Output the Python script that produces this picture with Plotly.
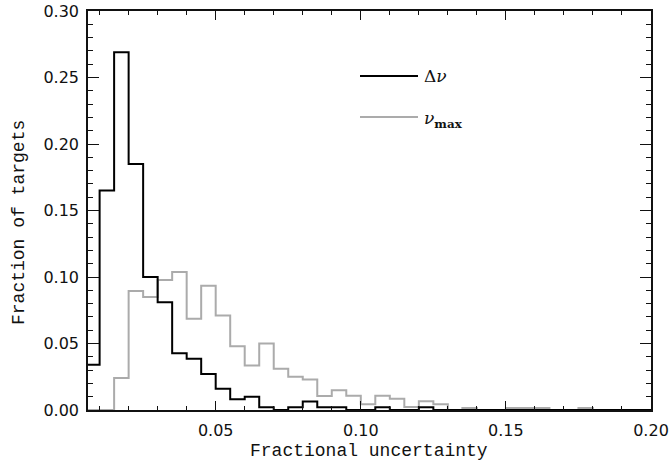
import plotly.graph_objects as go

# Histogram bin left edges (bin width 0.005) and fractions
bin_edges = [round(0.005 + 0.005 * i, 3) for i in range(40)]  # 0.005 ... 0.200
dnu_frac = [0.034, 0.165, 0.269, 0.185, 0.100, 0.081, 0.0426, 0.0386, 0.027, 0.016,
            0.008, 0.010, 0.002, 0.0, 0.002, 0.0063, 0.002, 0.002, 0.0, 0.0,
            0.002, 0.0, 0.0, 0.002, 0.0, 0.0, 0.0, 0.0, 0.0, 0.0,
            0.0, 0.0, 0.0, 0.0, 0.0, 0.0, 0.0, 0.0, 0.0]
numax_frac = [0.0, 0.0, 0.024, 0.0895, 0.085, 0.0977, 0.1038, 0.0687, 0.0935, 0.071,
              0.048, 0.0335, 0.050, 0.031, 0.025, 0.023, 0.0105, 0.0148, 0.0108, 0.0043,
              0.0108, 0.0085, 0.0023, 0.0065, 0.0043, 0.0, 0.0015, 0.0, 0.0, 0.0015,
              0.0015, 0.0015, 0.0, 0.0, 0.0015, 0.0, 0.0, 0.0, 0.0]

x_ticks = [0.05, 0.10, 0.15, 0.20]
x_tick_labels = ["0.05", "0.10", "0.15", "0.20"]
y_ticks = [0.0, 0.05, 0.10, 0.15, 0.20, 0.25, 0.30]
y_tick_labels = ["0.00", "0.05", "0.10", "0.15", "0.20", "0.25", "0.30"]

BLACK = "#000000"
GRAY = "#ababab"


def step_xy(edges, vals):
    xs = list(edges[:len(vals) + 1])
    ys = list(vals) + [vals[-1]]
    return xs, ys


fig = go.Figure()
gx, gy = step_xy(bin_edges, numax_frac)
fig.add_trace(go.Scatter(x=gx, y=gy, mode="lines", line=dict(shape="hv", color=GRAY, width=2),
                         showlegend=False, hoverinfo="skip"))
bx, by = step_xy(bin_edges, dnu_frac)
fig.add_trace(go.Scatter(x=bx, y=by, mode="lines", line=dict(shape="hv", color=BLACK, width=2),
                         showlegend=False, hoverinfo="skip"))

axis_common = dict(
    showline=True, linecolor="#111111", linewidth=1.5, mirror="allticks",
    ticks="inside", tickcolor="#111111", tickwidth=1.2,
    showgrid=False, zeroline=False, automargin=False,
    tickfont=dict(family="DejaVu Sans", size=16, color="#111111"),
)

fig.update_xaxes(range=[0.006, 0.2], tickvals=x_ticks, ticktext=x_tick_labels, ticklen=9,
                 ticklabelstandoff=5,
                 minor=dict(dtick=0.01, tick0=0, ticks="inside", ticklen=4, tickcolor="#111111", tickwidth=1.2),
                 **axis_common)
fig.update_yaxes(range=[0, 0.30], tickvals=y_ticks, ticktext=y_tick_labels, ticklen=11,
                 ticklabelstandoff=4,
                 minor=dict(dtick=0.01, tick0=0, ticks="inside", ticklen=5, tickcolor="#111111", tickwidth=1.2),
                 **axis_common)

W, H = 672, 464
L, R, T, B = 88, 21, 11, 54
pw, ph = W - L - R, H - T - B


def px(xp):  # page pixel x -> paper
    return (xp - L) / pw


def py(yp):  # page pixel y -> paper
    return (H - B - yp) / ph


shapes = [
    dict(type="line", xref="paper", yref="paper", x0=px(360), x1=px(418), y0=py(76), y1=py(76),
         line=dict(color=BLACK, width=2)),
    dict(type="line", xref="paper", yref="paper", x0=px(360), x1=px(418), y0=py(117), y1=py(117),
         line=dict(color=GRAY, width=2)),
]

annotations = [
    dict(text="Δ<i>ν</i>", xref="paper", yref="paper", x=px(422), y=py(76), xanchor="left", yanchor="middle",
         showarrow=False, font=dict(family="DejaVu Serif", size=17, color="#111111")),
    dict(text="<i>ν</i><sub><b>max</b></sub>", xref="paper", yref="paper", x=px(422), y=py(119),
         xanchor="left", yanchor="middle",
         showarrow=False, font=dict(family="DejaVu Serif", size=17, color="#111111")),
    dict(text="Fractional uncertainty", xref="paper", yref="paper", x=px(369), y=py(451),
         xanchor="center", yanchor="middle", showarrow=False,
         font=dict(family="Liberation Mono", size=18, color="#111111")),
    dict(text="Fraction of targets", xref="paper", yref="paper", x=px(19), y=py(223),
         xanchor="center", yanchor="middle", textangle=-90, showarrow=False,
         font=dict(family="Liberation Mono", size=18, color="#111111")),
]

fig.update_layout(
    width=W, height=H, margin=dict(l=L, r=R, t=T, b=B, autoexpand=False),
    paper_bgcolor="white", plot_bgcolor="white",
    shapes=shapes, annotations=annotations, showlegend=False,
)

fig.write_html("out.html", config={"displayModeBar": False},
               post_script="document.body.style.margin='0px';")
